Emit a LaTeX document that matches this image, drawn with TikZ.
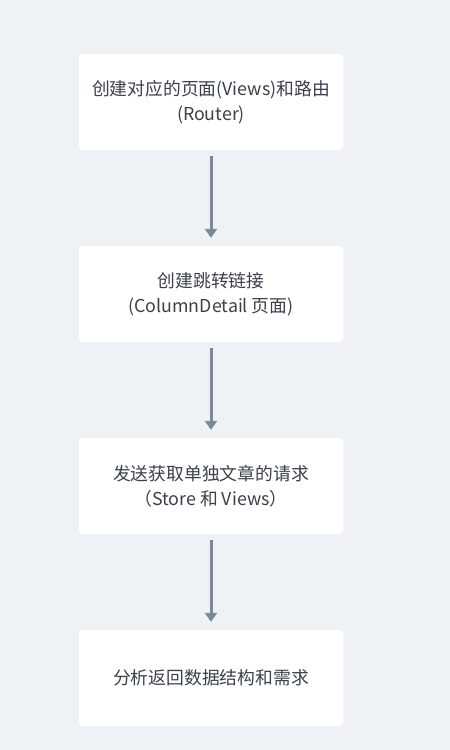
\documentclass[tikz,border=0pt]{standalone}
\usepackage{fontspec}
\setmainfont{Noto Sans CJK SC}
\usetikzlibrary{arrows.meta}
\definecolor{bg}{HTML}{EFF2F5}
\definecolor{arr}{HTML}{7B8899}
\definecolor{txt}{HTML}{3A414C}
\begin{document}
\begin{tikzpicture}[x=1pt,y=-1pt,
  box/.style={fill=white, rounded corners=3pt, minimum width=264pt, minimum height=96pt,
    align=center, text=txt, font=\fontsize{17.8pt}{25pt}\selectfont, inner sep=0pt},
  flow/.style={draw=arr, line width=3pt, shorten <=6pt, shorten >=8pt,
    -{Triangle[width=12pt,length=9pt]}}]
\fill[bg] (0,0) rectangle (450,750);
\node[box] (a) at (211,102) {创建对应的页面(Views)和路由\\(Router)};
\node[box] (b) at (211,294) {创建跳转链接\\(ColumnDetail 页面)};
\node[box] (c) at (211,486) {发送获取单独文章的请求\\（Store 和 Views）};
\node[box] (d) at (211,678) {分析返回数据结构和需求};
\draw[flow] (a.south) -- (b.north);
\draw[flow] (b.south) -- (c.north);
\draw[flow] (c.south) -- (d.north);
\end{tikzpicture}
\end{document}
